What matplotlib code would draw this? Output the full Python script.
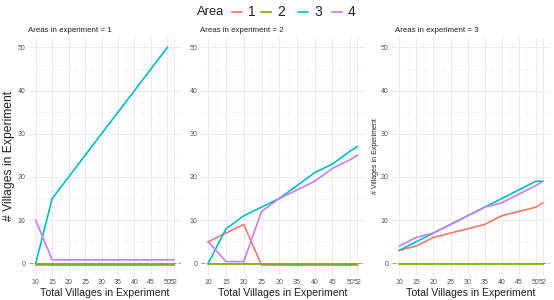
import numpy as np
import matplotlib
matplotlib.use("Agg")
import matplotlib.pyplot as plt
from matplotlib.lines import Line2D

plt.rcParams['font.family'] = ['Liberation Sans', 'DejaVu Sans']

# data
villages = [10, 15, 20, 25, 30, 35, 40, 45, 50, 52]
nan = np.nan

exp1_area1 = [-0.3, -0.3, -0.3, -0.3, -0.3, -0.3, -0.3, -0.3, -0.3, -0.3]
exp1_area2 = [-0.25, -0.25, -0.25, -0.25, -0.25, -0.25, -0.25, -0.25, -0.25, -0.25]
exp1_area3 = [0, 15, 20, 25, 30, 35, 40, 45, 50, nan]
exp1_area4 = [10, 0.8, 0.8, 0.8, 0.8, 0.8, 0.8, 0.8, 0.8, 0.8]

exp2_area1 = [5, 7, 9, -0.4, -0.4, -0.4, -0.4, -0.4, -0.4, -0.4]
exp2_area2 = [-0.1, -0.1, -0.1, -0.1, -0.1, -0.1, -0.1, -0.1, -0.1, -0.1]
exp2_area3 = [0, 8, 11, 13, 15, 18, 21, 23, 26, 27]
exp2_area4 = [5, 0.4, 0.4, 12, 15, 17, 19, 22, 24, 25]

exp3_area1 = [3, 4, 6, 7, 8, 9, 11, 12, 13, 14]
exp3_area2 = [-0.05, -0.05, -0.05, -0.05, -0.05, -0.05, -0.05, -0.05, -0.05, -0.05]
exp3_area3 = [3, 5, 7, 9, 11, 13, 15, 17, 19, 19]
exp3_area4 = [4, 6, 7, 9, 11, 13, 14, 16, 18, 19]

areas = ['1', '2', '3', '4']
colors = ['#F8766D', '#7CAE00', '#00BFC4', '#C77CFF']

panels = [
    ("Areas in experiment = 1", [exp1_area1, exp1_area2, exp1_area3, exp1_area4]),
    ("Areas in experiment = 2", [exp2_area1, exp2_area2, exp2_area3, exp2_area4]),
    ("Areas in experiment = 3", [exp3_area1, exp3_area2, exp3_area3, exp3_area4]),
]

W, H = 554, 300
fig = plt.figure(figsize=(W / 100, H / 100), dpi=100)

# panel boxes in pixels: left, right (top/bottom shared)
boxes = [(28.8, 180.9), (200.8, 364.8), (392.1, 549.9)]
top, bottom = 36.5, 275.9
title_x = [28.5, 200, 395.4]

xmajor = villages
xminor = [12.5, 17.5, 22.5, 27.5, 32.5, 37.5, 42.5, 47.5, 51]
ymajor = [0, 10, 20, 30, 40, 50]
yminor = [5, 15, 25, 35, 45]

axes = []
for i, ((l, r), (title, series)) in enumerate(zip(boxes, panels)):
    ax = fig.add_axes([l / W, 1 - bottom / H, (r - l) / W, (bottom - top) / H])
    axes.append(ax)
    for xv in xminor:
        ax.axvline(xv, color='#F4F4F4', lw=0.4, zorder=0)
    for yv in yminor:
        ax.axhline(yv, color='#F4F4F4', lw=0.4, zorder=0)
    for xv in xmajor:
        ax.axvline(xv, color='#EBEBEB', lw=0.7, zorder=0)
    for yv in ymajor:
        ax.axhline(yv, color='#EBEBEB', lw=0.7, zorder=0)
    ax.axhline(0, color='#999999', lw=0.7, ls=(0, (4, 3)), zorder=1)
    for vals, c in zip(series, colors):
        ax.plot(villages, vals, color=c, lw=1.2, zorder=2)
    ax.set_xlim(10 - 2.1, 52 + 2.1)
    ax.set_ylim(-2.92, 52.52)
    ax.set_xticks(xmajor)
    ax.set_yticks(ymajor)
    ax.tick_params(length=0, labelsize=5, labelcolor='#555555', pad=2.5)
    for s in ax.spines.values():
        s.set_visible(False)
    ax.set_xlabel("Total Villages in Experiment", fontsize=7.6, color='#222222', labelpad=1)
    fig.text(title_x[i] / W, 1 - 30 / H, title, fontsize=5.7, color='#222222',
             ha='left', va='center')

axes[0].set_ylabel("# Villages in Experiment", fontsize=8.7, color='#222222', labelpad=1.5)
axes[2].set_ylabel("# Villages in Experiment", fontsize=5, color='#222222', labelpad=1.5)

# legend on top, drawn by hand: title then key/label pairs in one row
ly = 1 - 12 / H
fig.text(197 / W, ly, "Area", fontsize=9.3, color='#222222', ha='left', va='center')
key_x = [232, 261, 298, 332]
for kx, c, lab in zip(key_x, colors, areas):
    fig.add_artist(Line2D([kx / W, (kx + 10) / W], [ly, ly], color=c, lw=1.2,
                          transform=fig.transFigure))
    fig.text((kx + 16) / W, ly, lab, fontsize=10, color='#222222', ha='left', va='center')

fig.savefig("out.png", dpi=100)
